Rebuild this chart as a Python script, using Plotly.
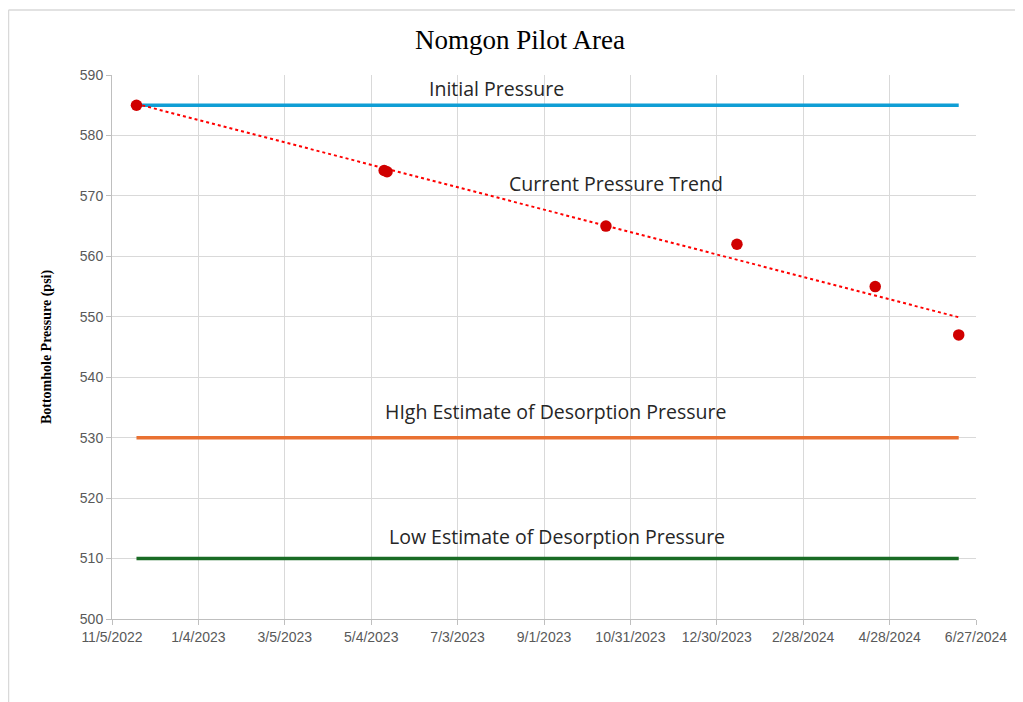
import plotly.graph_objects as go
import pandas as pd
import numpy as np

# ---- data ----
obs_dates = ["2022-11-22", "2023-05-13", "2023-05-15", "2023-10-14", "2024-01-13", "2024-04-18", "2024-06-15"]
obs_pressure = [585, 574.2, 574.0, 565, 562, 555, 547]

initial_pressure = 585
high_desorption = 530
low_desorption = 510

x_tick_labels = ["11/5/2022", "1/4/2023", "3/5/2023", "5/4/2023", "7/3/2023", "9/1/2023",
                 "10/31/2023", "12/30/2023", "2/28/2024", "4/28/2024", "6/27/2024"]
y_ticks = [500, 510, 520, 530, 540, 550, 560, 570, 580, 590]

# ---- derived ----
xd = pd.to_datetime(obs_dates)
tickvals = pd.to_datetime(x_tick_labels, format="%m/%d/%Y")
days = (xd - xd[0]).days.values.astype(float)
coef = np.polyfit(days, obs_pressure, 1)
trend_x = [xd[0], xd[-1]]
trend_y = [np.polyval(coef, days[0]), np.polyval(coef, days[-1])]
line_x = [xd[0], xd[-1]]

fig = go.Figure()
fig.add_trace(go.Scatter(x=line_x, y=[initial_pressure] * 2, mode="lines",
                         line=dict(color="#0F9ED5", width=3.5), showlegend=False))
fig.add_trace(go.Scatter(x=line_x, y=[high_desorption] * 2, mode="lines",
                         line=dict(color="#E97132", width=3.5), showlegend=False))
fig.add_trace(go.Scatter(x=line_x, y=[low_desorption] * 2, mode="lines",
                         line=dict(color="#196B24", width=3.5), showlegend=False))
fig.add_trace(go.Scatter(x=trend_x, y=trend_y, mode="lines",
                         line=dict(color="#FF0000", width=2, dash="dot"), showlegend=False))
fig.add_trace(go.Scatter(x=xd, y=obs_pressure, mode="markers",
                         marker=dict(color="#D00000", size=11.5), showlegend=False))

lab_font = dict(family="Open Sans, Liberation Sans, sans-serif", size=19.5, color="#262626")
annots = [
    ("2023-07-30", 587.7, "Initial Pressure"),
    ("2023-10-21", 572.0, "Current Pressure Trend"),
    ("2023-09-09", 534.4, "HIgh Estimate of Desorption Pressure"),
    ("2023-09-10", 513.7, "Low Estimate of Desorption Pressure"),
]
for x, y, t in annots:
    fig.add_annotation(x=x, y=y, text=t, showarrow=False, font=lab_font,
                       xanchor="center", yanchor="middle")

fig.update_layout(
    width=1023, height=702,
    paper_bgcolor="white", plot_bgcolor="white",
    margin=dict(l=104, r=55, t=67, b=91),
    title=dict(text="Nomgon Pilot Area", x=0.5005, xanchor="center", y=0.955, yanchor="middle",
               font=dict(family="Liberation Serif, serif", size=27, color="#000000")),
    xaxis=dict(range=[tickvals[0], tickvals[-1]], tickvals=tickvals, ticktext=x_tick_labels,
               showgrid=True, gridcolor="#D9D9D9", gridwidth=1,
               showline=True, linecolor="#BFBFBF", linewidth=1,
               ticks="outside", ticklen=5, tickcolor="#BFBFBF",
               tickfont=dict(family="Liberation Sans, Arial, sans-serif", size=14, color="#595959"),
               tickangle=0, zeroline=False),
    yaxis=dict(range=[500, 590], tickvals=y_ticks,
               showgrid=True, gridcolor="#D9D9D9", gridwidth=1,
               showline=True, linecolor="#BFBFBF", linewidth=1,
               ticks="outside", ticklen=5, tickcolor="#BFBFBF",
               tickfont=dict(family="Liberation Sans, Arial, sans-serif", size=14, color="#595959"),
               title=dict(text="<b>Bottomhole Pressure (psi)</b>", standoff=24,
                          font=dict(family="Liberation Serif, serif", size=14, color="#000000")),
               zeroline=False),
)
# outer chart frame (left and top edges)
fig.add_shape(type="line", xref="paper", yref="paper",
              x0=-0.1198, x1=-0.1198, y0=-0.17, y1=1.1195,
              line=dict(color="#D9D9D9", width=1.5))
fig.add_shape(type="line", xref="paper", yref="paper",
              x0=-0.1198, x1=1.07, y0=1.1195, y1=1.1195,
              line=dict(color="#D9D9D9", width=1.5))

fig.write_html("out.html")
